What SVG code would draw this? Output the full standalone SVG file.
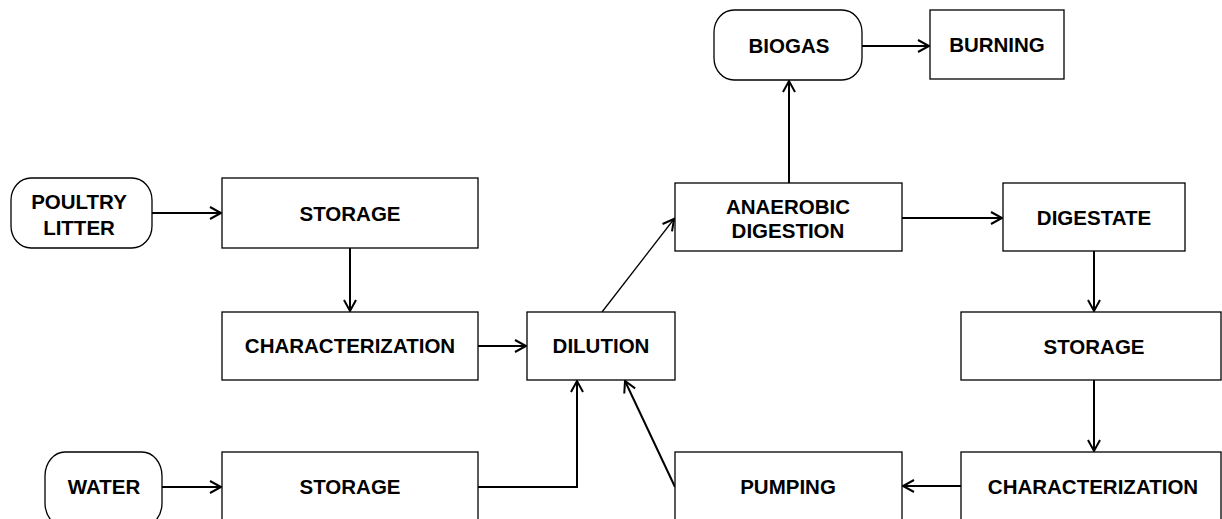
<svg xmlns="http://www.w3.org/2000/svg" width="1222" height="519" viewBox="0 0 1222 519">
<style>
.box{fill:#fff;stroke:#000;stroke-width:1.3}
.t{font-family:"Liberation Sans",Arial,sans-serif;font-weight:bold;font-size:20.5px;fill:#000;text-anchor:middle}
.c{fill:none;stroke:#000;stroke-width:2}
.thin{fill:none;stroke:#000;stroke-width:1.3}
</style>
<defs>
<marker id="ah" markerUnits="userSpaceOnUse" markerWidth="16" markerHeight="16" viewBox="-13 -8 16 16" refX="0" refY="0" orient="auto" overflow="visible">
<path d="M-11,-6 L0,0 L-11,6" fill="none" stroke="#000" stroke-width="2"/>
</marker>
</defs>
<rect width="1222" height="519" fill="#fff"/>
<g id="connectors">
<line class="c" x1="152" y1="213" x2="221" y2="213" marker-end="url(#ah)"/>
<line class="c" x1="350" y1="248" x2="350" y2="311" marker-end="url(#ah)"/>
<line class="c" x1="478" y1="346" x2="526" y2="346" marker-end="url(#ah)"/>
<line class="c" x1="162" y1="487" x2="221" y2="487" marker-end="url(#ah)"/>
<polyline class="c" points="478,487 577,487 577,381" marker-end="url(#ah)"/>
<line class="c" x1="675" y1="487" x2="625" y2="381" marker-end="url(#ah)"/>
<line class="thin" x1="602" y1="312" x2="674" y2="219" marker-end="url(#ah)"/>
<line class="c" x1="789" y1="183" x2="789" y2="81" marker-end="url(#ah)"/>
<line class="c" x1="862" y1="46" x2="929" y2="46" marker-end="url(#ah)"/>
<line class="c" x1="902" y1="218" x2="1002" y2="218" marker-end="url(#ah)"/>
<line class="c" x1="1094" y1="251" x2="1094" y2="311" marker-end="url(#ah)"/>
<line class="c" x1="1094" y1="380" x2="1094" y2="451" marker-end="url(#ah)"/>
<line class="c" x1="961" y1="486" x2="903" y2="486" marker-end="url(#ah)"/>
</g>
<g id="biogas">
<rect class="box" x="714" y="10" width="148" height="70" rx="20" ry="22"/>
<text class="t" x="789" y="53">BIOGAS</text>
</g>
<g id="burning">
<rect class="box" x="930" y="10" width="134" height="69"/>
<text class="t" x="997" y="52">BURNING</text>
</g>
<g id="poultry">
<rect class="box" x="11" y="178" width="141" height="70" rx="20" ry="22"/>
<text class="t" x="79" y="209">POULTRY</text>
<text class="t" x="79" y="235">LITTER</text>
</g>
<g id="storage1">
<rect class="box" x="222" y="178" width="256" height="70"/>
<text class="t" x="350" y="221">STORAGE</text>
</g>
<g id="characterization1">
<rect class="box" x="222" y="312" width="256" height="68"/>
<text class="t" x="350" y="353">CHARACTERIZATION</text>
</g>
<g id="dilution">
<rect class="box" x="527" y="312" width="148" height="68"/>
<text class="t" x="601" y="353">DILUTION</text>
</g>
<g id="anaerobic">
<rect class="box" x="675" y="183" width="227" height="68"/>
<text class="t" x="788" y="214">ANAEROBIC</text>
<text class="t" x="788" y="238">DIGESTION</text>
</g>
<g id="digestate">
<rect class="box" x="1003" y="183" width="182" height="68"/>
<text class="t" x="1094" y="225">DIGESTATE</text>
</g>
<g id="storage2">
<rect class="box" x="961" y="312" width="260" height="68"/>
<text class="t" x="1094" y="354">STORAGE</text>
</g>
<g id="characterization2">
<rect class="box" x="961" y="452" width="260" height="70"/>
<text class="t" x="1093" y="494">CHARACTERIZATION</text>
</g>
<g id="pumping">
<rect class="box" x="675" y="452" width="227" height="70"/>
<text class="t" x="788" y="494">PUMPING</text>
</g>
<g id="water">
<rect class="box" x="45" y="452" width="117" height="75" rx="20" ry="24"/>
<text class="t" x="104" y="494">WATER</text>
</g>
<g id="storage3">
<rect class="box" x="222" y="452" width="256" height="70"/>
<text class="t" x="350" y="494">STORAGE</text>
</g>
</svg>
